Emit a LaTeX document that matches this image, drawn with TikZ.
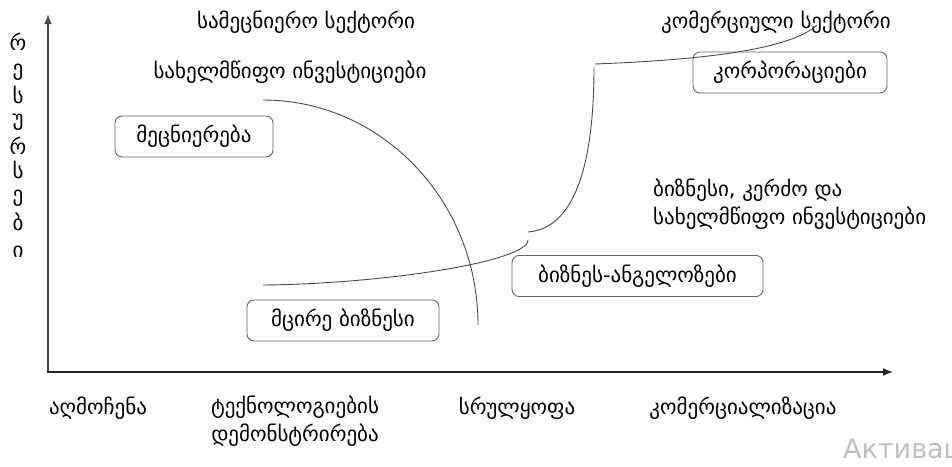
\documentclass[tikz,border=0pt]{standalone}
\usepackage{fontspec}
\setmainfont{DejaVu Sans}
\usetikzlibrary{arrows.meta}
\begin{document}
\begin{tikzpicture}[x=1pt,y=-1pt,
    every node/.style={font=\fontsize{21}{28}\selectfont, inner sep=0pt},
    axis/.style={line width=1.5pt, draw=black!70, -{Latex[length=10pt,width=8pt]}},
    curve/.style={line width=0.9pt, draw=black!70},
    box/.style={draw=black!60, line width=0.9pt, rounded corners=7pt, minimum height=41pt}]
  \useasboundingbox (0,0) rectangle (952,466);
  % axes
  \coordinate (origin) at (48,372);
  \coordinate (ytip) at (48,14);
  \coordinate (xtip) at (893,372);
  \draw[axis] (origin) -- (ytip);
  \draw[axis, draw=black!85] (47,372) -- (xtip);
  % vertical label
  \foreach \l/\y in {რ/42, ე/72, ს/95, უ/122, რ/146, ს/170, ე/198, ბ/222, ი/252}
    \node (v\y) at (18,\y) {\l};
  % sectors and stages
  \draw
    (306,22) node (scisec) {სამეცნიერო სექტორი}
    (776,22) node (comsec) {კომერციული სექტორი}
    (290,72) node (stateinv) {სახელმწიფო ინვესტიციები}
    (653,204) node[anchor=west, align=left] (mixinv) {ბიზნესი, კერძო და\\სახელმწიფო ინვესტიციები}
    (98,408) node (discovery) {აღმოჩენა}
    (295,421) node[align=center] (demo) {ტექნოლოგიების\\დემონსტრირება}
    (517,408) node (refine) {სრულყოფა}
    (743,408) node (commerce) {კომერციალიზაცია};
  % boxes
  \draw
    (194,136.5) node[box, minimum width=158pt] (science) {მეცნიერება}
    (790,72.5) node[box, minimum width=194pt] (corp) {კორპორაციები}
    (637.5,276) node[box, minimum width=251pt] (angels) {ბიზნეს-ანგელოზები}
    (343,320.5) node[box, minimum width=192pt] (small) {მცირე ბიზნესი};
  % curves
  \coordinate (s1) at (263,100);
  \coordinate (e1) at (478,325);
  \coordinate (s2) at (263,285);
  \coordinate (k2) at (528,240);
  \coordinate (k3) at (528,232);
  \coordinate (k4) at (594,67);
  \coordinate (k5) at (595,64);
  \coordinate (e2) at (817,25);
  \draw[curve] (s1) .. controls (382,100) and (478,201) .. (e1);
  \draw[curve] (s2) .. controls (380,284) and (528,262) .. (k2);
  \draw[curve] (k3) .. controls (580,228) and (594,150) .. (k4);
  \draw[curve] (k5) .. controls (700,60) and (790,50) .. (e2);
  % watermark
  \node[anchor=west, text=black!25, font=\fontsize{27}{30}\selectfont] (mark) at (843,451) {Активац};
\end{tikzpicture}
\end{document}
